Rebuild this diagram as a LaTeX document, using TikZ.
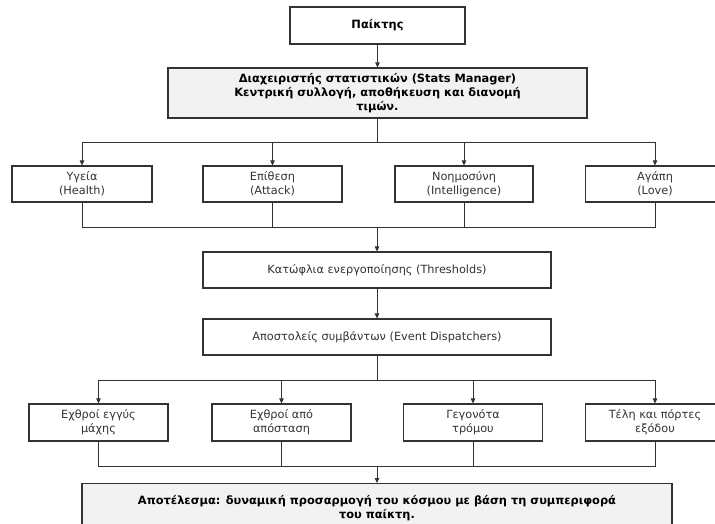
\documentclass[tikz,border=0pt]{standalone}
\usepackage{fontspec}
\setmainfont{DejaVu Sans}
\usetikzlibrary{arrows.meta}
\definecolor{edgec}{HTML}{333333}
\definecolor{fillg}{HTML}{F2F2F2}
\tikzset{
  box/.style={draw=edgec, line width=1.1pt, fill=white, align=center, inner sep=0pt,
    font=\fontsize{11.3}{14}\selectfont, text=black!80},
  graybox/.style={box, fill=fillg, font=\fontsize{11.4}{14}\selectfont\bfseries, text=black},
  conn/.style={draw=edgec, line width=0.8pt},
  arr/.style={conn, -{Triangle[length=5pt,width=4.5pt]}}
}
\begin{document}
\begin{tikzpicture}[x=1pt,y=-1pt]
\clip (0,0) rectangle (715,524);
\fill[white] (0,0) rectangle (715,524);
% nodes
\node[box, font=\fontsize{11.4}{14}\selectfont\bfseries, text=black, minimum width=175pt, minimum height=37pt] (p) at (377.5,25.5) {Παίκτης};
\node[graybox, minimum width=419pt, minimum height=50pt] (sm) at (377.5,93) {Διαχειριστής στατιστικών (Stats Manager)\\Κεντρική συλλογή, αποθήκευση και διανομή\\τιμών.};
\node[box, minimum width=140pt, minimum height=36pt] (h) at (82,184) {Υγεία\\(Health)};
\node[box, minimum width=139pt, minimum height=36pt] (a) at (272.5,184) {Επίθεση\\(Attack)};
\node[box, minimum width=138pt, minimum height=36pt] (i) at (464,184) {Νοημοσύνη\\(Intelligence)};
\node[box, minimum width=139pt, minimum height=36pt] (l) at (655,184) {Αγάπη\\(Love)};
\node[box, minimum width=348pt, minimum height=36pt] (th) at (377,270) {Κατώφλια ενεργοποίησης (Thresholds)};
\node[box, minimum width=348pt, minimum height=36pt] (ev) at (377,337) {Αποστολείς συμβάντων (Event Dispatchers)};
\node[box, minimum width=139pt, minimum height=37pt] (e1) at (98.5,422.5) {Εχθροί εγγύς\\μάχης};
\node[box, minimum width=139pt, minimum height=37pt] (e2) at (281.5,422.5) {Εχθροί από\\απόσταση};
\node[box, minimum width=139pt, minimum height=37pt] (e3) at (473,422.5) {Γεγονότα\\τρόμου};
\node[box, minimum width=139pt, minimum height=37pt] (e4) at (655,422.5) {Τέλη και πόρτες\\εξόδου};
\node[graybox, minimum width=590pt, minimum height=50pt, anchor=north] (r) at (377,483) {Αποτέλεσμα: δυναμική προσαρμογή του κόσμου με βάση τη συμπεριφορά\\του παίκτη.};
% junctions
\coordinate (b1) at (377.5,142);
\coordinate (m1) at (377,227);
\coordinate (b2) at (377,380);
\coordinate (m2) at (377,466);
% connectors
\draw[arr] (p) -- (sm);
\draw[conn] (sm.south) -- (b1);
\foreach \n in {h,a,i,l} \draw[arr] (b1) -| (\n.north);
\foreach \n in {h,a,i,l} \draw[conn] (\n.south) |- (m1);
\draw[arr] (m1) -- (th.north);
\draw[arr] (th) -- (ev);
\draw[conn] (ev.south) -- (b2);
\foreach \n in {e1,e2,e3,e4} \draw[arr] (b2) -| (\n.north);
\foreach \n in {e1,e2,e3,e4} \draw[conn] (\n.south) |- (m2);
\draw[arr] (m2) -- (r.north);
\end{tikzpicture}
\end{document}
